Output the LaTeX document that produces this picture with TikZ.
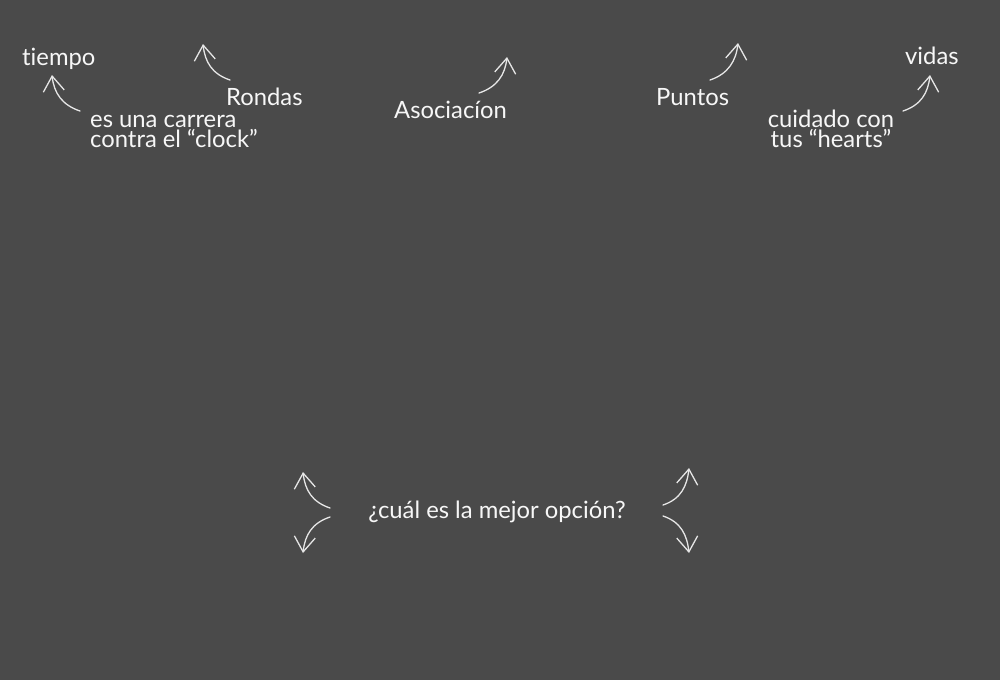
\documentclass[tikz,border=0pt]{standalone}
\usepackage{fontspec}
\setmainfont{Lato}[Ligatures=NoCommon]
\usetikzlibrary{arrows.meta}
\definecolor{bgc}{HTML}{4A4A4A}
\definecolor{txt}{HTML}{F7F7F7}
\definecolor{arr}{HTML}{E6E6E6}
\begin{document}
\begin{tikzpicture}[x=1pt,y=-1pt,
  lbl/.style={inner sep=0pt,text=txt,font=\fontsize{23.8}{18}\selectfont},
  curvy/.style={draw=arr,line width=1.3pt,line cap=round,
    -{Straight Barb[length=15pt,width=21pt,line width=1.3pt]}}]
\fill[bgc] (0,0) rectangle (1000,680);
\useasboundingbox (0,0) rectangle (1000,680);
% labels
\node[lbl,anchor=base west] (tiempo) at (22,65) {tiempo};
\node[lbl,anchor=base west] (rondas) at (226,105) {Rondas};
\node[lbl,anchor=base west,align=left] (carrera) at (90,147) {es una carrera\\contra el “clock”};
\node[lbl,anchor=base west] (asoc) at (394,118) {Asociacíon};
\node[lbl,anchor=base west] (puntos) at (656,105) {Puntos};
\node[lbl,anchor=base west] (vidas) at (905,64) {vidas};
\node[lbl,anchor=base,align=center] (cuidado) at (831,147) {cuidado con\\tus “hearts”};
\node[lbl,anchor=base] (cual) at (497,518) {¿cuál es la mejor opción?};
% arrow endpoints
\coordinate (s1) at (80,111);  \coordinate (t1) at (52,75);
\coordinate (s2) at (230,80);  \coordinate (t2) at (203,44);
\coordinate (s3) at (479,93);  \coordinate (t3) at (507,57);
\coordinate (s4) at (710,80);  \coordinate (t4) at (738,43);
\coordinate (s5) at (903,111); \coordinate (t5) at (930,75);
\coordinate (s6) at (330,508); \coordinate (t6) at (303,472);
\coordinate (s7) at (330,517); \coordinate (t7) at (303,553);
\coordinate (s8) at (663,505); \coordinate (t8) at (689,468);
\coordinate (s9) at (663,516); \coordinate (t9) at (689,553);
% arrows
\draw[curvy] (s1) .. controls +(-18,-6) and +(2,18) .. (t1);
\draw[curvy] (s2) .. controls +(-18,-6) and +(2,18) .. (t2);
\draw[curvy] (s3) .. controls +(18,-6) and +(-2,18) .. (t3);
\draw[curvy] (s4) .. controls +(18,-6) and +(-2,18) .. (t4);
\draw[curvy] (s5) .. controls +(18,-6) and +(-2,18) .. (t5);
\draw[curvy] (s6) .. controls +(-18,-6) and +(2,18) .. (t6);
\draw[curvy] (s7) .. controls +(-18,6) and +(2,-18) .. (t7);
\draw[curvy] (s8) .. controls +(18,-6) and +(-2,18) .. (t8);
\draw[curvy] (s9) .. controls +(18,6) and +(-2,-18) .. (t9);
\end{tikzpicture}
\end{document}
